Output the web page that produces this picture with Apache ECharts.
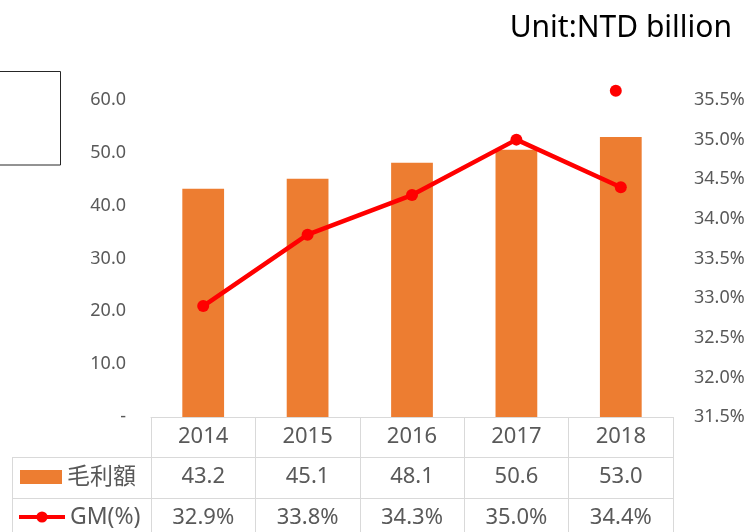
<!DOCTYPE html>
<html>
<head>
<meta charset="utf-8">
<script src="https://cdn.jsdelivr.net/npm/echarts@6/dist/echarts.min.js"></script>
<style>html,body{margin:0;padding:0;background:#fff;}#c{width:752px;height:532px;}</style>
</head>
<body>
<div id="c"></div>
<script>
var categories = ['2014', '2015', '2016', '2017', '2018'];
var grossProfit = [43.2, 45.1, 48.1, 50.6, 53.0];
var gmPercent = [32.9, 33.8, 34.3, 35.0, 34.4];
var strayPoint = [null, null, null, null, 35.63];
var barName = '毛利額';
var lineName = 'GM(%)';

var FONT = '"Noto Sans", "Noto Sans CJK TC", sans-serif';
var TXT = '#595959';
var LINE = '#D9D9D9';

var chart = echarts.init(document.getElementById('c'));
function tableAxis(data, offset, tickLen) {
  return {
    type: 'category', position: 'bottom', offset: offset, data: data,
    axisLine: { show: true, lineStyle: { color: LINE, width: 1 } },
    axisTick: { show: true, interval: 0, length: tickLen, lineStyle: { color: LINE, width: 1 } },
    axisLabel: { interval: 0, margin: 20, verticalAlign: 'middle', color: TXT, fontSize: 22, fontFamily: FONT, lineHeight: 22 },
    splitLine: { show: false }
  };
}
chart.setOption({
  animation: false,
  title: {
    text: 'Unit:NTD billion', right: 15, top: 8,
    textStyle: { color: '#000', fontSize: 30, fontWeight: 'normal', fontFamily: FONT }
  },
  grid: { left: 151, right: 79, top: 100, bottom: 115, containLabel: false },
  legend: [
    { data: [{ name: barName, icon: 'rect' }], left: 20, top: 462, padding: 0, itemWidth: 42, itemHeight: 14, itemGap: 0,
      textStyle: { color: TXT, fontSize: 23, fontFamily: FONT, lineHeight: 30 } },
    { data: [lineName], left: 17, top: 502, padding: 0, itemWidth: 46, itemHeight: 14, itemGap: 0,
      lineStyle: { width: 4 },
      textStyle: { color: TXT, fontSize: 23, fontFamily: FONT, lineHeight: 30 } }
  ],
  xAxis: [
    tableAxis(categories, 0, 40),
    tableAxis(grossProfit.map(function (v) { return v.toFixed(1); }), 40, 41),
    tableAxis(gmPercent.map(function (v) { return v.toFixed(1) + '%'; }), 81, 45)
  ],
  yAxis: [
    { type: 'value', min: 0, max: 60, interval: 10,
      axisLine: { show: false }, axisTick: { show: false }, splitLine: { show: false },
      axisLabel: { margin: 25, color: TXT, fontSize: 18, fontFamily: FONT,
        formatter: function (v) { return v === 0 ? '-' : v.toFixed(1); } } },
    { type: 'value', min: 31.5, max: 35.5, interval: 0.5,
      axisLine: { show: false }, axisTick: { show: false }, splitLine: { show: false },
      axisLabel: { margin: 21, color: TXT, fontSize: 18, fontFamily: FONT,
        formatter: function (v) { return v.toFixed(1) + '%'; } } }
  ],
  series: [
    { name: barName, type: 'bar', data: grossProfit, barWidth: '40%',
      itemStyle: { color: '#ED7D31' }, xAxisIndex: 0, yAxisIndex: 0 },
    { name: lineName, type: 'line', data: gmPercent, xAxisIndex: 0, yAxisIndex: 1,
      symbol: 'circle', symbolSize: 12, z: 5,
      lineStyle: { color: '#FF0000', width: 4.5 }, itemStyle: { color: '#FF0000' } },
    { name: 'stray', type: 'scatter', data: strayPoint, xAxisIndex: 0, yAxisIndex: 1,
      clip: false, symbolSize: 12, symbolOffset: [-5, 1], itemStyle: { color: '#FF0000', opacity: 1 } }
  ],
  graphic: [
    { type: 'rect', shape: { x: -5, y: 71.5, width: 65.5, height: 93.5 }, style: { fill: 'none', stroke: '#262626', lineWidth: 1 } },
    { type: 'line', shape: { x1: 12.5, y1: 457.5, x2: 151, y2: 457.5 }, style: { stroke: LINE, lineWidth: 1 } },
    { type: 'line', shape: { x1: 12.5, y1: 498.5, x2: 151, y2: 498.5 }, style: { stroke: LINE, lineWidth: 1 } },
    { type: 'line', shape: { x1: 12.5, y1: 457, x2: 12.5, y2: 540 }, style: { stroke: LINE, lineWidth: 1 } }
  ]
});
</script>
</body>
</html>
